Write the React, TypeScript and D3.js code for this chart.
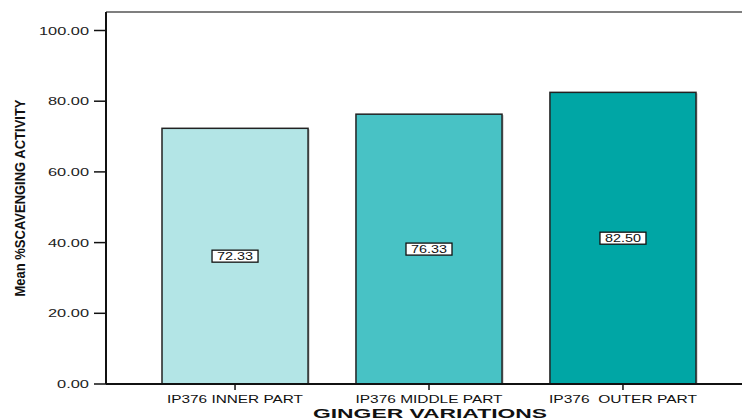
import React from "react";
import * as d3 from "d3";

const categories = ["IP376 INNER PART", "IP376 MIDDLE PART", "IP376  OUTER PART"];
const values = [72.33, 76.33, 82.5];
const valueLabels = ["72.33", "76.33", "82.50"];
const colors = ["#b3e5e6", "#48c2c5", "#00a6a5"];
const yTicks = [0, 20, 40, 60, 80, 100];

export default function App() {
  const W = 742, H = 419;
  const left = 106, top = 12, bottom = 384;
  const y = d3.scaleLinear().domain([0, 100]).range([bottom, 30.5]);
  const x = d3.scaleBand().domain(categories).range([162, 696]).paddingInner(0.247).paddingOuter(0);
  const font = "Arial, 'Liberation Sans', Helvetica, sans-serif";
  const catWidths = [136, 147, 148];
  const tickLen = (t: number) => (t === 0 ? 32 : t === 100 ? 50 : 41);
  return (
    <svg width={W} height={H} style={{ position: "absolute", left: 0, top: 0, background: "#fff" }}>
      <rect x={0} y={0} width={W} height={H} fill="#fff" />
      {/* frame */}
      <line x1={left} x2={W} y1={top} y2={top} stroke="#555" strokeWidth={1.5} />
      <line x1={left} x2={left} y1={top} y2={bottom} stroke="#111" strokeWidth={2} />
      {/* bars */}
      {categories.map((c, i) => {
        const bx = x(c)!;
        const bw = x.bandwidth();
        const by = y(values[i]);
        return (
          <g key={c}>
            <rect x={bx + 1.5} y={by + 1} width={bw} height={bottom - by} fill="#bbb" />
            <rect x={bx} y={by} width={bw} height={bottom - by} fill={colors[i]} stroke="#222" strokeWidth={1.5} />
          </g>
        );
      })}
      {/* value labels */}
      {categories.map((c, i) => {
        const cx = x(c)! + x.bandwidth() / 2;
        const cy = (y(values[i]) + bottom) / 2;
        return (
          <g key={"l" + c}>
            <rect x={cx - 23} y={cy - 6} width={46} height={12} fill="#fff" stroke="#111" strokeWidth={1.3} />
            <text x={cx} y={cy + 4} textAnchor="middle" fontFamily={font} fontSize={10.5} fill="#111"
              textLength={36} lengthAdjust="spacingAndGlyphs">{valueLabels[i]}</text>
          </g>
        );
      })}
      {/* x axis */}
      <line x1={left} x2={W} y1={bottom} y2={bottom} stroke="#111" strokeWidth={2} />
      {categories.map((c, i) => {
        const cx = x(c)! + x.bandwidth() / 2;
        return (
          <g key={"t" + c}>
            <line x1={cx} x2={cx} y1={bottom} y2={bottom + 6} stroke="#111" strokeWidth={1.5} />
            <text x={cx} y={402.5} textAnchor="middle" fontFamily={font} fontSize={10.5} fill="#111"
              textLength={catWidths[i]} lengthAdjust="spacingAndGlyphs" style={{ whiteSpace: "pre" }}>{c}</text>
          </g>
        );
      })}
      {/* y axis ticks */}
      {yTicks.map((t) => (
        <g key={"y" + t}>
          <line x1={94} x2={left} y1={y(t)} y2={y(t)} stroke="#111" strokeWidth={1.5} />
          <text x={89} y={y(t) + 4} textAnchor="end" fontFamily={font} fontSize={10.5} fill="#222"
            textLength={tickLen(t)} lengthAdjust="spacingAndGlyphs">{t.toFixed(2)}</text>
        </g>
      ))}
      {/* axis titles */}
      <text x={430} y={418} textAnchor="middle" fontFamily={font} fontWeight="bold" fontSize={13} fill="#111"
        textLength={234} lengthAdjust="spacingAndGlyphs">GINGER VARIATIONS</text>
      <text transform="translate(25,198) rotate(-90)" textAnchor="middle" fontFamily={font} fontWeight="bold" fontSize={15} fill="#111"
        textLength={197} lengthAdjust="spacingAndGlyphs">Mean %SCAVENGING ACTIVITY</text>
    </svg>
  );
}
